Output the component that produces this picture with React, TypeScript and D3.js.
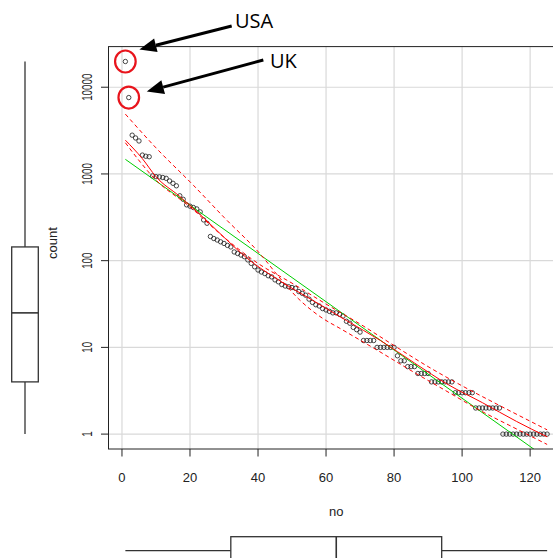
import React from 'react';
import * as d3 from 'd3';

// count per rank ("no" = 1..125)
const counts = [
  19800, 7600, 2800, 2600, 2400, 1650, 1600, 1580, 950, 930,
  925, 910, 890, 830, 780, 730, 560, 510, 440, 425,
  410, 395, 365, 295, 270, 190, 180, 173, 165, 158,
  150, 144, 126, 121, 116, 111, 102, 93, 85, 78,
  74, 71, 67, 65, 60, 57, 53, 51, 50, 49,
  48, 44, 42, 40, 36, 33, 31, 30, 28, 27,
  26, 25, 25, 24, 23, 20, 19, 17, 16, 15,
  12, 12, 12, 12, 10, 10, 10, 10, 10, 10,
  8, 7, 7, 6, 6, 6, 5, 5, 5, 5,
  4, 4, 4, 4, 4, 4, 4, 3, 3, 3,
  3, 3, 3, 2, 2, 2, 2, 2, 2, 2,
  2, 1, 1, 1, 1, 1, 1, 1, 1, 1,
  1, 1, 1, 1, 1
];
const ranks = counts.map((_, i) => i + 1);

// red smoother (solid) and its two dashed spread lines
const smoothNo = [1, 6, 10, 17, 23, 30, 37, 46, 56, 66, 76, 86, 96, 106, 116, 125];
const smoothCount = [2450, 1500, 930, 550, 340, 186, 105, 60, 35, 20.4, 12, 6.6, 3.7, 2.3, 1.4, 0.93];
const spreadANo = [1, 10, 21, 30, 41, 46, 52, 58, 65, 75, 85, 95, 105, 115, 125];
const spreadACount = [4900, 2000, 740, 316, 115, 66, 36, 23, 15.8, 9.3, 5.4, 3.2, 1.9, 1.2, 0.76];
const spreadBNo = [1, 10, 20, 30, 40, 50, 60, 70, 80, 90, 100, 110, 125];
const spreadBCount = [2290, 850, 417, 186, 93, 55, 31.6, 18.6, 10.5, 6.0, 3.6, 2.24, 1.12];

const xTicks = [0, 20, 40, 60, 80, 100, 120];
const yTicks = [1, 10, 100, 1000, 10000];

const callouts = [
  { label: 'USA', no: 1, tx: 235, ty: 28, tail: [231.7, 26], tipOff: [14, -12] },
  { label: 'UK', no: 2, tx: 270, ty: 68, tail: [263.3, 60], tipOff: [18, -6] },
];

const W = 553, H = 558;
const plot = { left: 108.5, right: 564, top: 46.6, bottom: 449 };
const font = '"Liberation Sans", Arial, sans-serif';

function fivenum(v: number[]) {
  const s = [...v].sort((a, b) => a - b);
  const n = s.length;
  const n4 = Math.floor((n + 3) / 2) / 2;
  const d = [1, n4, (n + 1) / 2, n + 1 - n4, n];
  return d.map(k => 0.5 * (s[Math.floor(k) - 1] + s[Math.ceil(k) - 1]));
}

function pad(lo: number, hi: number) {
  const d = (hi - lo) * 0.04;
  return [lo - d, hi + d];
}

const App = () => {
  const logs = counts.map(Math.log10);
  const x = d3.scaleLinear()
    .domain(pad(d3.min(ranks)!, d3.max(ranks)!))
    .range([plot.left, plot.right]);
  const [ly0, ly1] = pad(d3.min(logs)!, d3.max(logs)!);
  const y = d3.scaleLog().domain([10 ** ly0, 10 ** ly1]).range([plot.bottom, plot.top]);

  // least squares line on log scale
  const mx = d3.mean(ranks)!, my = d3.mean(logs)!;
  const slope = d3.sum(ranks, (r, i) => (r - mx) * (logs[i] - my)) / d3.sum(ranks, r => (r - mx) ** 2);
  const icpt = my - slope * mx;
  const regPts: [number, number][] = [d3.min(ranks)!, d3.max(ranks)!].map(r => [x(r), y(10 ** (icpt + slope * r))]);

  const curve = (nos: number[], vals: number[]) =>
    d3.line<number>().x((_, i) => x(nos[i])).y(d => y(d)).curve(d3.curveMonotoneX)(vals)!;

  // marginal boxplots
  const yBox = fivenum(logs).map(v => 10 ** v);
  const yIqr = Math.log10(yBox[3]) - Math.log10(yBox[1]);
  const yHi = d3.max(counts.filter(c => Math.log10(c) <= Math.log10(yBox[3]) + 1.5 * yIqr))!;
  const yLo = d3.min(counts.filter(c => Math.log10(c) >= Math.log10(yBox[1]) - 1.5 * yIqr))!;
  const xBox = fivenum(ranks);
  const bx = 25, bw = 13.3;
  const by = 550.7, bh = 14;

  const arrowHead = (tip: number[], tail: number[]) => {
    const dx = tail[0] - tip[0], dy = tail[1] - tip[1];
    const len = Math.hypot(dx, dy), ux = dx / len, uy = dy / len;
    const L = 17, hw = 7;
    const bxp = tip[0] + ux * L, byp = tip[1] + uy * L;
    return {
      pts: `${tip[0]},${tip[1]} ${bxp - uy * hw},${byp + ux * hw} ${bxp + uy * hw},${byp - ux * hw}`,
      base: [bxp, byp],
    };
  };

  return (
    <svg width={W} height={H} style={{ position: 'absolute', left: 0, top: 0, background: '#fff' }}>
      <defs>
        <clipPath id="plotclip">
          <rect x={plot.left} y={plot.top} width={plot.right - plot.left} height={plot.bottom - plot.top} />
        </clipPath>
      </defs>

      {/* grid */}
      <g stroke="#d9d9d9" strokeWidth={1.2}>
        {xTicks.map(t => <line key={'gx' + t} x1={x(t)} x2={x(t)} y1={plot.top} y2={plot.bottom} />)}
        {yTicks.map(t => <line key={'gy' + t} x1={plot.left} x2={plot.right} y1={y(t)} y2={y(t)} />)}
      </g>

      {/* points */}
      <g fill="none" stroke="#1a1a1a" strokeWidth={0.8}>
        {counts.map((c, i) => <circle key={i} cx={x(ranks[i])} cy={y(c)} r={2.2} />)}
      </g>

      <g clipPath="url(#plotclip)" fill="none">
        <line x1={regPts[0][0]} y1={regPts[0][1]} x2={regPts[1][0]} y2={regPts[1][1]} stroke="#00cd00" strokeWidth={1} />
        <path d={curve(smoothNo, smoothCount)} stroke="#ff0000" strokeWidth={1} />
        <path d={curve(spreadANo, spreadACount)} stroke="#ff0000" strokeWidth={1} strokeDasharray="4,3" />
        <path d={curve(spreadBNo, spreadBCount)} stroke="#ff0000" strokeWidth={1} strokeDasharray="4,3" />
      </g>

      {/* frame */}
      <rect x={plot.left} y={plot.top} width={plot.right - plot.left} height={plot.bottom - plot.top} fill="none" stroke="#222" strokeWidth={1} />

      {/* x axis */}
      <g stroke="#222">
        {xTicks.map(t => <line key={'tx' + t} x1={x(t)} x2={x(t)} y1={plot.bottom} y2={plot.bottom + 7.5} />)}
        {yTicks.map(t => <line key={'ty' + t} x1={plot.left} x2={plot.left - 7.5} y1={y(t)} y2={y(t)} />)}
      </g>
      <g fontFamily={font} fontSize={13} fill="#222" textAnchor="middle">
        {xTicks.map(t => <text key={'lx' + t} x={x(t)} y={481.5}>{t}</text>)}
        {yTicks.map(t => (
          <text key={'ly' + t} transform={`translate(91.5,${y(t)}) rotate(-90)`} fontSize={14}
            textLength={String(t).length * 5.45} lengthAdjust="spacingAndGlyphs">{t}</text>
        ))}
        <text x={(plot.left + plot.right) / 2} y={516}>no</text>
        <text transform={`translate(56.5,243) rotate(-90)`}>count</text>
      </g>

      {/* boxplot of count (left margin) */}
      <g stroke="#333" strokeWidth={1.3} fill="none">
        <line x1={bx} x2={bx} y1={y(yBox[3])} y2={y(yHi)} />
        <line x1={bx} x2={bx} y1={y(yBox[1])} y2={y(yLo)} />
        <rect x={bx - bw} width={2 * bw} y={y(yBox[3])} height={y(yBox[1]) - y(yBox[3])} fill="#fff" />
        <line x1={bx - bw} x2={bx + bw} y1={y(yBox[2])} y2={y(yBox[2])} strokeWidth={1.6} />
      </g>

      {/* boxplot of no (bottom margin) */}
      <g stroke="#333" strokeWidth={1.3} fill="none">
        <line y1={by} y2={by} x1={x(xBox[0])} x2={x(xBox[1])} />
        <line y1={by} y2={by} x1={x(xBox[3])} x2={x(xBox[4])} />
        <rect y={by - bh} height={2 * bh} x={x(xBox[1])} width={x(xBox[3]) - x(xBox[1])} fill="#fff" />
        <line y1={by - bh} y2={by + bh} x1={x(xBox[2])} x2={x(xBox[2])} strokeWidth={1.6} />
      </g>

      {/* callouts */}
      {callouts.map(c => {
        const px = x(c.no), py = y(counts[c.no - 1]);
        const tip = [px + c.tipOff[0], py + c.tipOff[1]];
        const head = arrowHead(tip, c.tail);
        return (
          <g key={c.label}>
            <ellipse cx={px} cy={py} rx={10.3} ry={11} fill="none" stroke="#e8141c" strokeWidth={2.2} />
            <line x1={c.tail[0]} y1={c.tail[1]} x2={head.base[0]} y2={head.base[1]} stroke="#000" strokeWidth={3} />
            <polygon points={head.pts} fill="#000" />
            <text x={c.tx} y={c.ty} fontFamily='"Open Sans", sans-serif' fontSize={20} fill="#000">{c.label}</text>
          </g>
        );
      })}
    </svg>
  );
};

export default App;
